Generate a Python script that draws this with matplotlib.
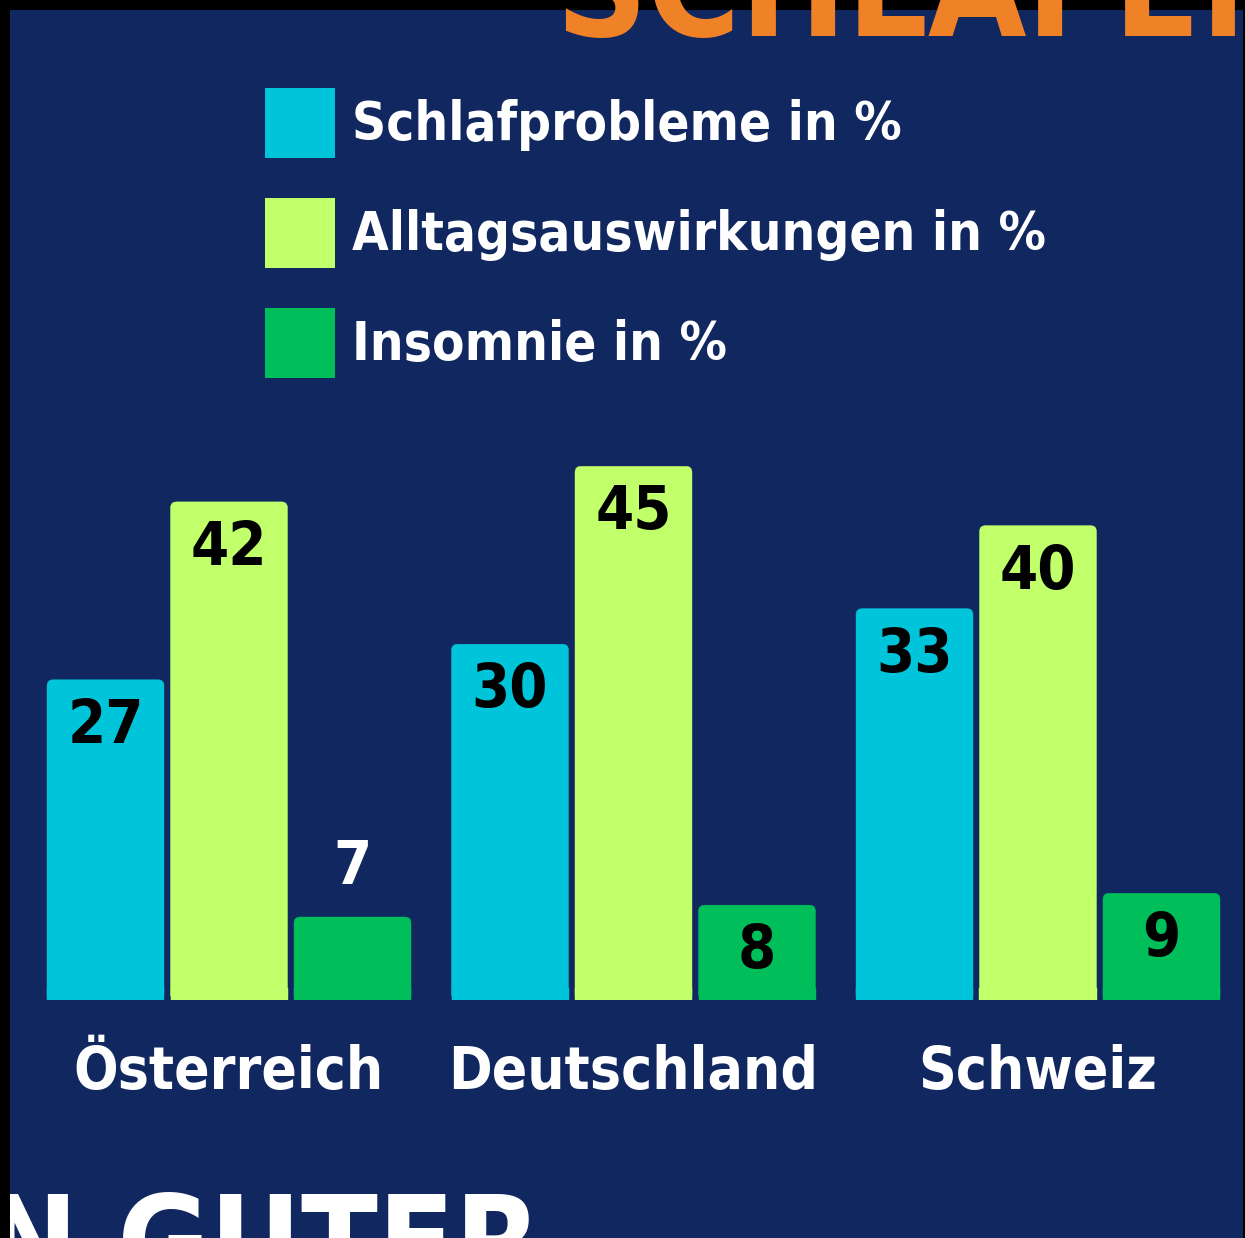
import matplotlib
matplotlib.use("Agg")
import matplotlib.pyplot as plt
from matplotlib import font_manager as fm
from matplotlib.patches import Rectangle, Patch, FancyBboxPatch
import numpy as np

# ---------------- data ----------------
countries = ["Österreich", "Deutschland", "Schweiz"]
series_names = ["Schlafprobleme in %", "Alltagsauswirkungen in %", "Insomnie in %"]
schlafprobleme = [27, 30, 33]
alltag = [42, 45, 40]
insomnie = [7, 8, 9]
title_top = "SCHLAFEN"
title_bottom = "N GUTER"

colors = ["#00c5da", "#c1ff6b", "#00bf5b"]
navy = "#10275f"
orange = "#ef8126"

# ---------------- font ----------------
def pick_font():
    cands = []
    for f in fm.findSystemFonts():
        n = f.lower()
        if ("narrow" in n or "condensed" in n) and "bold" in n and "italic" not in n and "oblique" not in n:
            cands.append(f)
    pref = ["liberationsansnarrow-bold", "dejavusanscondensed-bold", "opensans_condensed", "opensanscondensed"]
    for p in pref:
        for c in cands:
            if p in c.lower().replace(" ", ""):
                return fm.FontProperties(fname=c)
    if cands:
        return fm.FontProperties(fname=cands[0])
    return fm.FontProperties(family="DejaVu Sans", weight="bold")

fp = pick_font()

W, H = 1245, 1238
fig = plt.figure(figsize=(W / 100, H / 100), dpi=100)
fig.patch.set_facecolor("black")

def fx(px):
    return px / W

def fy(py):
    return 1 - py / H

# navy panel
fig.patches.append(Rectangle((fx(10), 0), fx(1243) - fx(10), fy(10), transform=fig.transFigure,
                             facecolor=navy, edgecolor="none", zorder=-5))

# ---------------- axes ----------------
px_per_group = 404.5
g0 = 229.0
x_left = (10 - g0) / px_per_group
x_right = (1243 - g0) / px_per_group
px_per_unit = 11.86
ax_top_px = 400
ax = fig.add_axes([fx(10), fy(1000), fx(1243) - fx(10), (1000 - ax_top_px) / H])
ax.set_zorder(2)
ax.set_xlim(x_left, x_right)
ax.set_ylim(0, (1000 - ax_top_px) / px_per_unit)
ax.set_facecolor("none")
ax.axis("off")

bw = 117 / px_per_group
step = 123.5 / px_per_group
x = np.arange(len(countries))
all_series = [schlafprobleme, alltag, insomnie]

for i, (vals, c) in enumerate(zip(all_series, colors)):
    pos = x + (i - 1) * step
    bars = ax.bar(pos, vals, width=bw, color=c, edgecolor="none", zorder=2)
    for b, v in zip(bars, vals):
        # rounded top corners
        b.set_visible(False)
        xr, w_, h_ = b.get_x(), b.get_width(), b.get_height()
        rpx = 6
        rx = rpx / px_per_group
        ry = rpx / px_per_unit
        fb = FancyBboxPatch((xr, 0), w_, h_, boxstyle=f"round,pad=0,rounding_size={rx}",
                            mutation_aspect=ry / rx, facecolor=c, edgecolor=c, linewidth=0.3, zorder=2)
        ax.add_patch(fb)
        ax.add_patch(Rectangle((xr, 0), w_, ry * 2, facecolor=c, edgecolor=c, linewidth=0.3, zorder=2))
        cx = b.get_x() + w_ / 2
        if i == 2 and v == 7:
            ax.text(cx, v + 20 / px_per_unit, str(v), ha="center", va="bottom",
                    color="white", fontproperties=fp, fontsize=44, zorder=3)
        else:
            ax.text(cx, v - 17 / px_per_unit, str(v), ha="center", va="top",
                    color="black", fontproperties=fp, fontsize=44, zorder=3)

for xi, name in zip(x, countries):
    ax.text(xi, -44 / px_per_unit, name, ha="center", va="top", color="white",
            fontproperties=fp, fontsize=42, clip_on=False)

# ---------------- legend ----------------
handles = [Patch(facecolor=c, edgecolor="none") for c in colors]
lp = fp.copy()
lp.set_size(38)
leg = fig.legend(handles, series_names, loc="upper left", bbox_to_anchor=(fx(265), fy(88)),
                 frameon=False, prop=lp, handlelength=1.326, handleheight=1.663,
                 handletextpad=0.32, labelspacing=0.76, borderpad=0, borderaxespad=0)
for t in leg.get_texts():
    t.set_color("white")

# ---------------- cut-off titles ----------------
fig.text(fx(556), fy(36), title_top, ha="left", va="baseline", color=orange,
         fontproperties=fp, fontsize=102, zorder=5)
fig.text(fx(-16), fy(1190), title_bottom, ha="left", va="top", color="white",
         fontproperties=fp, fontsize=90, zorder=1)
fig.patches.append(Rectangle((0, 0), fx(10), 1, transform=fig.transFigure,
                             facecolor="black", edgecolor="none", zorder=4))
fig.patches.append(Rectangle((fx(1243), 0), 1, 1, transform=fig.transFigure,
                             facecolor="black", edgecolor="none", zorder=4))

fig.savefig("out.png", dpi=100, facecolor=fig.get_facecolor())
